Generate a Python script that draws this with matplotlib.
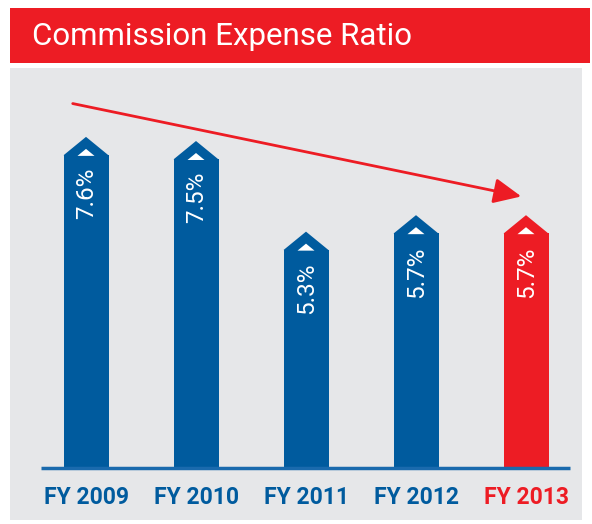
import matplotlib
matplotlib.use("Agg")
import matplotlib.pyplot as plt
from matplotlib.patches import Polygon, FancyArrowPatch

# data
years = ["FY 2009", "FY 2010", "FY 2011", "FY 2012", "FY 2013"]
ratios = [7.6, 7.5, 5.3, 5.7, 5.7]
labels = ["7.6%", "7.5%", "5.3%", "5.7%", "5.7%"]

blue = "#005b9e"
red = "#ed1c24"
gray = "#e6e7e9"
colors = [blue, blue, blue, blue, red]

W, H = 592, 524
fig = plt.figure(figsize=(W / 100, H / 100), dpi=100)
fig.patch.set_facecolor("white")

# title banner
bax = fig.add_axes([10 / W, 1 - 63 / H, 580 / W, 55 / H])
bax.set_facecolor(red)
bax.set_xticks([])
bax.set_yticks([])
for s in bax.spines.values():
    s.set_visible(False)
bax.text(22 / 580, 0.48, "Commission Expense Ratio", color="white", fontsize=22.5,
         family="Roboto", va="center", ha="left", transform=bax.transAxes)

# grey panel with bars
ax = fig.add_axes([10 / W, 1 - 520 / H, 572 / W, 452 / H])
ax.set_facecolor(gray)
for s in ax.spines.values():
    s.set_visible(False)
ax.set_xticks([])
ax.set_yticks([])

px_x = 110.0   # pixels per category
px_y = 41.2    # pixels per percent
ax.set_xlim((10 - 86) / px_x, (582 - 86) / px_x)
ax.set_ylim(-52 / px_y, 400 / px_y)

bw = 45 / px_x
peak = 18 / px_y
xs = list(range(len(years)))
ax.bar(xs, ratios, width=bw, color=colors, zorder=2)
for x, v, c, lab in zip(xs, ratios, colors, labels):
    # pointed top
    ax.add_patch(Polygon([(x - bw / 2, v - 0.01), (x, v + peak), (x + bw / 2, v - 0.01)],
                         closed=True, color=c, lw=0, zorder=2))
    # small white triangle
    tw = 17 / px_x / 2
    ax.add_patch(Polygon([(x - tw, v - 1 / px_y), (x, v + 6 / px_y), (x + tw, v - 1 / px_y)],
                         closed=True, color="white", lw=0, zorder=3))
    ax.text(x + 1 / px_x, v - 13 / px_y, lab, rotation=90, color="white", fontsize=17.5,
            family="Roboto", ha="center", va="top", zorder=4)

# baseline
ax.plot([(41 - 86) / px_x, (570 - 86) / px_x], [0, 0], color="#1a6aad", lw=2.5, zorder=3,
        solid_capstyle="butt")

# category labels
for x, yr, c in zip(xs, years, colors):
    tc = red if c == red else blue
    ax.text(x, -29 / px_y, yr, color=tc, fontsize=16.5, weight="bold",
            family="Roboto", ha="center", va="center")

# trend arrow
arr = FancyArrowPatch(((70 - 86) / px_x, (468 - 103) / px_y),
                      ((524 - 86) / px_x, (468 - 197) / px_y),
                      arrowstyle="-|>,head_length=1.2,head_width=0.55",
                      mutation_scale=14, color=red, lw=2, zorder=5)
ax.add_patch(arr)

fig.savefig("out.png", dpi=100)
